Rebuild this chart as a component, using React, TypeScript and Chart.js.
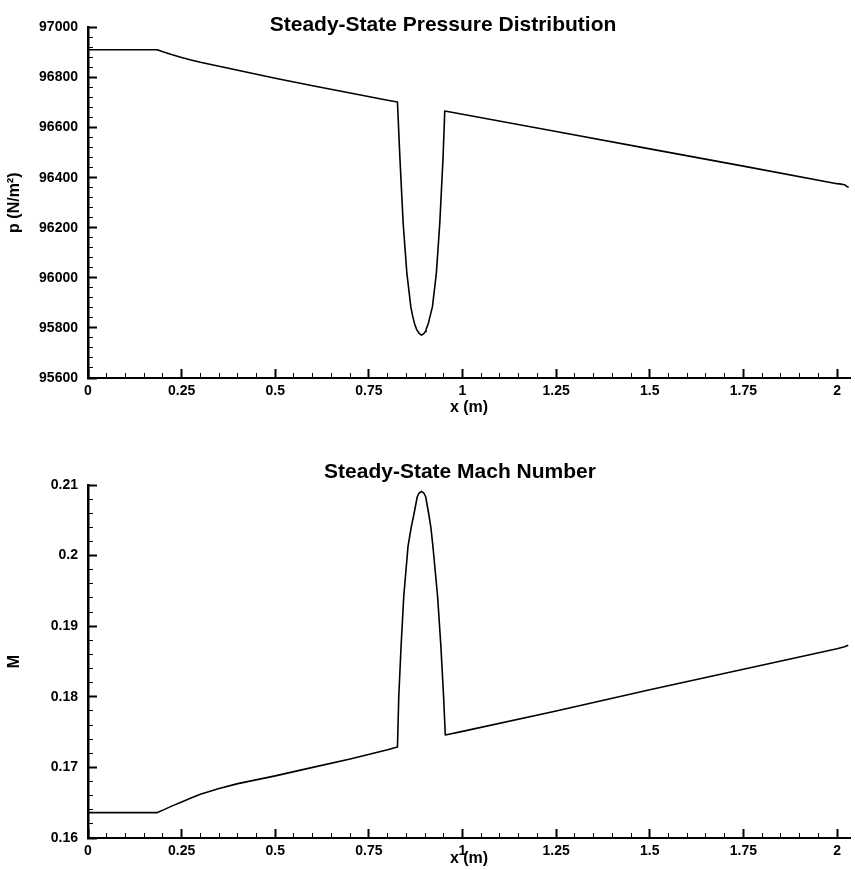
import React, { useEffect, useRef } from 'react';
import { Chart, registerables } from 'chart.js';

Chart.register(...registerables);

// ---------- data ----------
const pressureX = [
  0, 0.185, 0.2, 0.225, 0.25, 0.275, 0.3, 0.35, 0.4, 0.5, 0.6, 0.7, 0.8, 0.8263, 0.8327,
  0.8415, 0.8514, 0.862, 0.8665, 0.8716, 0.8777, 0.8814, 0.8841, 0.8903, 0.8974, 0.9002,
  0.9025, 0.9089, 0.914, 0.9196, 0.9302, 0.9393, 0.9481, 0.9526, 1.0, 1.25, 1.5, 1.75,
  2.0, 2.012, 2.02, 2.025, 2.031,
];
const pressureY = [
  96911, 96911, 96903, 96891, 96880, 96870, 96861, 96845, 96829, 96797, 96767, 96738,
  96709, 96702, 96483, 96218, 96019, 95884, 95850, 95819, 95793, 95785, 95778, 95771,
  95778, 95785, 95793, 95819, 95850, 95884, 96019, 96218, 96483, 96666, 96653, 96584,
  96515, 96446, 96376, 96374, 96372, 96366, 96362,
];

const machX = [
  0, 0.185, 0.2, 0.225, 0.25, 0.275, 0.3, 0.35, 0.4, 0.5, 0.6, 0.7, 0.8, 0.8263, 0.8298,
  0.8359, 0.8431, 0.8545, 0.863, 0.8708, 0.879, 0.8833, 0.8903, 0.8975, 0.9018, 0.9095,
  0.9155, 0.921, 0.9335, 0.9423, 0.9495, 0.954, 1.0, 1.25, 1.5, 1.75, 2.0, 2.02, 2.03,
];
const machY = [
  0.1636, 0.1636, 0.16395, 0.16455, 0.1651, 0.16565, 0.1662, 0.167, 0.1677, 0.1688, 0.17,
  0.1712, 0.1725, 0.1729, 0.18, 0.1871, 0.1942, 0.2013, 0.204, 0.206, 0.2083, 0.2088,
  0.2091, 0.2088, 0.2083, 0.206, 0.204, 0.2013, 0.1942, 0.1871, 0.18, 0.1746, 0.1751,
  0.178, 0.181, 0.1839, 0.1868, 0.1871, 0.1873,
];

// axis ranges / tick steps
const xRange = [0, 2.035];
const xMajorStep = 0.25;
const xMinorStep = 0.05;
const pressureRange = [95600, 97000];
const pressureMajorStep = 200;
const pressureMinorStep = 40;
const machRange = [0.16, 0.21];
const machMajorStep = 0.01;
const machMinorStep = 0.002;

const titles = ['Steady-State Pressure Distribution', 'Steady-State Mach Number'];
const xLabel = 'x (m)';
const yLabels = ['p (N/m\u00B2)', 'M'];

const FONT = "'Liberation Sans', Arial, Helvetica, sans-serif";

const titlePlugin = {
  id: 'plotTitle',
  afterDraw(chart: any, _args: any, opts: any) {
    const { ctx } = chart;
    ctx.save();
    ctx.font = `bold ${opts.size}px ${FONT}`;
    ctx.fillStyle = '#000';
    ctx.textAlign = 'center';
    ctx.textBaseline = 'middle';
    ctx.fillText(opts.text, opts.x, opts.y);
    ctx.restore();
  },
};

function fmt(v: number) {
  return String(Math.round(v * 1000) / 1000);
}

function makeConfig(p: {
  xs: number[];
  ys: number[];
  yRange: number[];
  yMajor: number;
  yMinor: number;
  padTop: number;
  xBoxHeight: number;
  xTitlePad: number;
  yTitle: string;
  title: string;
  titleX: number;
  titleY: number;
}) {
  const majorGrid = {
    display: true,
    drawOnChartArea: false,
    drawTicks: true,
    tickLength: -9,
    tickWidth: 2,
    tickColor: '#000',
  };
  const minorGrid = {
    display: true,
    drawOnChartArea: false,
    drawTicks: true,
    tickLength: -5,
    tickWidth: 1,
    tickColor: '#000',
  };
  const tickFont = { family: FONT, size: 14, weight: 'bold' as const };
  const titleFont = { family: FONT, size: 16, weight: 'bold' as const, lineHeight: 1.2 };
  return {
    type: 'line' as const,
    data: {
      datasets: [
        {
          data: p.xs.map((x, i) => ({ x, y: p.ys[i] })),
          borderColor: '#000',
          borderWidth: 1.6,
          pointRadius: 0,
          tension: 0,
          borderJoinStyle: 'round' as const,
          fill: false,
        },
      ],
    },
    options: {
      animation: false,
      responsive: false,
      maintainAspectRatio: false,
      events: [],
      layout: { padding: { top: p.padTop, right: 3, left: 0, bottom: 0 } },
      plugins: {
        legend: { display: false },
        tooltip: { enabled: false },
        plotTitle: { text: p.title, x: p.titleX, y: p.titleY, size: 21 },
      },
      scales: {
        x: {
          type: 'linear',
          position: 'bottom',
          weight: 1,
          min: xRange[0],
          max: xRange[1],
          afterFit: (s: any) => {
            s.height = p.xBoxHeight;
          },
          border: { display: true, color: '#000', width: 2 },
          grid: majorGrid,
          ticks: {
            stepSize: xMajorStep,
            includeBounds: false,
            autoSkip: false,
            maxRotation: 0,
            padding: 14,
            color: '#000',
            font: tickFont,
            callback: (v: any) => fmt(v),
          },
          title: {
            display: true,
            text: xLabel,
            color: '#000',
            font: titleFont,
            padding: { top: 0, bottom: p.xTitlePad },
          },
        },
        xMinor: {
          type: 'linear',
          position: 'bottom',
          weight: 0,
          min: xRange[0],
          max: xRange[1],
          afterFit: (s: any) => {
            s.height = 0;
          },
          border: { display: false },
          grid: minorGrid,
          ticks: { stepSize: xMinorStep, includeBounds: false, display: false },
        },
        y: {
          type: 'linear',
          position: 'left',
          weight: 1,
          min: p.yRange[0],
          max: p.yRange[1],
          afterFit: (s: any) => {
            s.width = 88;
          },
          border: { display: true, color: '#000', width: 2.5 },
          grid: majorGrid,
          ticks: {
            stepSize: p.yMajor,
            includeBounds: false,
            autoSkip: false,
            padding: 19,
            color: '#000',
            font: tickFont,
            callback: (v: any) => fmt(v),
          },
          title: {
            display: true,
            text: p.yTitle,
            color: '#000',
            font: titleFont,
            padding: { top: 5, bottom: 0 },
          },
        },
        yMinor: {
          type: 'linear',
          position: 'left',
          weight: 0,
          min: p.yRange[0],
          max: p.yRange[1],
          afterFit: (s: any) => {
            s.width = 0;
          },
          border: { display: false },
          grid: minorGrid,
          ticks: { stepSize: p.yMinor, includeBounds: false, display: false },
        },
      },
    },
    plugins: [titlePlugin],
  };
}

export default function App() {
  const topRef = useRef<HTMLCanvasElement>(null);
  const bottomRef = useRef<HTMLCanvasElement>(null);

  useEffect(() => {
    const charts: Chart[] = [];
    if (topRef.current) {
      charts.push(
        new Chart(
          topRef.current,
          makeConfig({
            xs: pressureX,
            ys: pressureY,
            yRange: pressureRange,
            yMajor: pressureMajorStep,
            yMinor: pressureMinorStep,
            padTop: 27,
            xBoxHeight: 57,
            xTitlePad: 18,
            yTitle: yLabels[0],
            title: titles[0],
            titleX: 443,
            titleY: 25,
          }) as any
        )
      );
    }
    if (bottomRef.current) {
      charts.push(
        new Chart(
          bottomRef.current,
          makeConfig({
            xs: machX,
            ys: machY,
            yRange: machRange,
            yMajor: machMajorStep,
            yMinor: machMinorStep,
            padTop: 50,
            xBoxHeight: 32,
            xTitlePad: 2,
            yTitle: yLabels[1],
            title: titles[1],
            titleX: 460,
            titleY: 37,
          }) as any
        )
      );
    }
    return () => charts.forEach((c) => c.destroy());
  }, []);

  return (
    <div style={{ position: 'absolute', left: 0, top: 0, width: 855, height: 870, background: '#fff' }}>
      <canvas ref={topRef} width={855} height={435} style={{ display: 'block', width: 855, height: 435 }} />
      <canvas ref={bottomRef} width={855} height={435} style={{ display: 'block', width: 855, height: 435 }} />
    </div>
  );
}
